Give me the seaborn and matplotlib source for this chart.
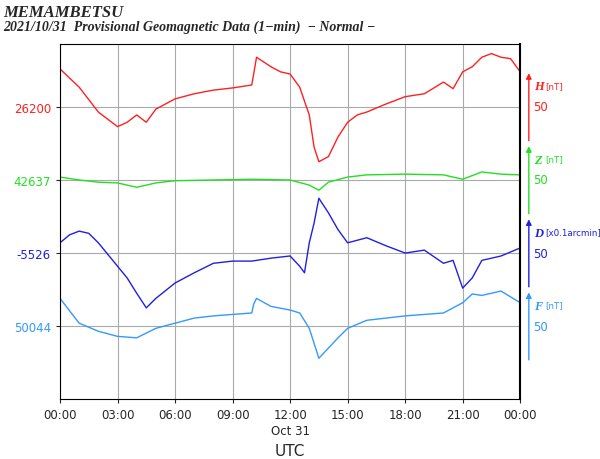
import numpy as np
import matplotlib
matplotlib.use("Agg")
import matplotlib.pyplot as plt
import seaborn as sns
import pandas as pd

sns.set_style("white")
plt.rcParams['font.family'] = ['DejaVu Sans']

h_t = [0,1,2,3,3.5,4,4.5,5,6,7,8,9,10,10.1,10.25,11,11.5,12,12.5,13,13.25,13.5,14,14.5,15,15.5,16,17,18,19,20,20.5,21,21.5,22,22.5,23,23.5,24]
h_v = [52,27,-7,-27,-21,-11,-21,-3,11,18,23,26,30,45,68,55,48,45,27,-11,-55,-75,-68,-41,-21,-11,-7,4,14,18,34,25,48,55,68,73,68,66,48]
z_t = [0,1,2,3,4,5,6,8,10,12,13,13.5,14,15,16,18,20,21,22,23,24]
z_v = [4,0,-3,-4,-10,-4,-1,0,1,0,-7,-14,-3,4,7,8,7,1,11,8,7]
d_t = [0,0.5,1,1.5,2,3,3.5,4,4.5,5,6,7,8,9,10,11,12,12.5,12.75,13,13.25,13.5,14,14.5,15,16,17,18,19,20,20.5,21,21.5,22,23,24]
d_v = [14,25,30,27,14,-18,-34,-55,-75,-62,-41,-27,-14,-11,-11,-7,-4,-18,-27,14,41,75,55,32,14,21,10,0,4,-14,-10,-48,-34,-10,-4,7]
f_t = [0,1,2,3,4,5,6,7,8,9,10,10.1,10.25,11,12,12.5,13,13.5,14,14.5,15,16,18,20,21,21.5,22,23,24]
f_v = [38,4,-7,-14,-16,-3,4,11,14,16,18,30,38,27,22,18,-3,-44,-30,-16,-3,8,14,18,32,44,42,48,32]

base_labels = ["26200", "42637", "-5526", "50044"]
units = ["[nT]", "[nT]", "[x0.1arcmin]", "[nT]"]
names = ["H", "Z", "D", "F"]
colors = ["#ff2020", "#20e020", "#2020e0", "#3399ff"]
offsets = [400, 300, 200, 100]

fig = plt.figure(figsize=(6, 4.6), dpi=100)
ax = fig.add_axes([0.1, 0.13, 0.767, 0.772])
series = [(h_t, h_v), (z_t, z_v), (d_t, d_v), (f_t, f_v)]
for (t, v), c, off, n in zip(series, colors, offsets, names):
    df = pd.DataFrame({"t": t, "v": np.array(v) + off})
    sns.lineplot(data=df, x="t", y="v", color=c, lw=1, ax=ax)

ax.set_xlim(0, 24)
ax.set_ylim(0, 486)
ax.set_xticks(range(0, 25, 3))
ax.set_xticklabels([f"{h:02d}:00" for h in range(0, 24, 3)] + ["00:00"], fontsize=8.5)
ax.set_yticks(offsets)
ax.set_yticklabels(base_labels, fontsize=8.5)
for tl, c in zip(ax.get_yticklabels(), colors):
    tl.set_color(c)
ax.grid(True, color="#aaaaaa", lw=0.8)
ax.set_xlabel("")
ax.set_ylabel("")
ax.tick_params(axis="both", length=3, direction="out", left=True, bottom=True)
for s in ax.spines.values():
    s.set_color("black"); s.set_linewidth(0.8)
ax.spines["right"].set_linewidth(1.5)
ax.text(12, -34, "Oct 31", ha="center", va="top", fontsize=8.5)
ax.text(12, -60, "UTC", ha="center", va="top", fontsize=11)

# right-side scale arrows
xa = 24.45
for i, (c, off, n, u) in enumerate(zip(colors, offsets, names, units)):
    y0 = off - 50
    ax.annotate("", xy=(xa, off + 50), xytext=(xa, y0), xycoords="data",
                arrowprops=dict(arrowstyle="-|>", color=c, lw=1, mutation_scale=8),
                annotation_clip=False)
    ax.text(xa + 0.25, off, "50", color=c, fontsize=8.5, va="center", ha="left", clip_on=False)
    ax.text(xa + 0.25, off + 28, n, color=c, fontsize=9, fontweight="bold", style="italic",
            family="Liberation Serif", va="center", ha="left", clip_on=False)
    ax.text(xa + 0.85, off + 29, u, color=c, fontsize=6.3, va="center", ha="left", clip_on=False)

fig.text(0.005, 0.99, "MEMAMBETSU", fontsize=12, fontweight="bold", style="italic",
         family="Liberation Serif", va="top")
fig.text(0.005, 0.955, "2021/10/31  Provisional Geomagnetic Data (1\u2212min)  \u2212 Normal \u2212",
         fontsize=10, fontweight="bold", style="italic", family="Liberation Serif", va="top")
fig.savefig("out.png", dpi=100)
